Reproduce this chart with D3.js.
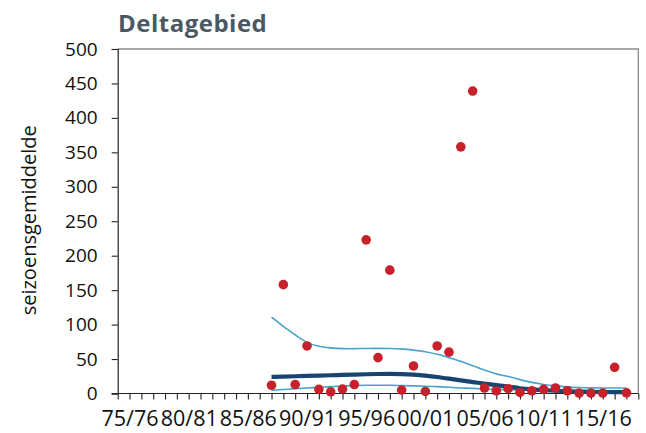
<!DOCTYPE html>
<html>
<head>
<meta charset="utf-8">
<script src="https://cdn.jsdelivr.net/npm/d3@7"></script>
<style>
  html, body { margin: 0; padding: 0; background: #fff; }
  svg { display: block; }
</style>
</head>
<body>
<svg id="chart" width="646" height="433"></svg>
<script>
// Seasons on the category axis (74/75 .. 18/19)
const firstYear = 1974;
const seasonCount = 45;
const seasons = Array.from({length: seasonCount}, (_, i) => {
  const a = (firstYear + i) % 100, b = (firstYear + i + 1) % 100;
  return String(a).padStart(2, "0") + "/" + String(b).padStart(2, "0");
});

// Labelled seasons on the x axis
const xTickLabels = ["75/76", "80/81", "85/86", "90/91", "95/96", "00/01", "05/06", "10/11", "15/16"];
const yTicks = [0, 50, 100, 150, 200, 250, 300, 350, 400, 450, 500];

// Observed seasonal means, 87/88 .. 17/18
const obsSeasons = seasons.slice(13, 44);
const observed = [12, 158, 13, 69, 6, 2.5, 6.5, 13, 223, 52, 179, 5, 40, 3, 69, 60,
  358, 439, 8, 4, 7, 1.5, 4, 6, 8, 4, 0.5, 0.5, 0.5, 38, 1];

// Smoothed trend with upper and lower bounds
const trend = [24, 24.5, 25, 25.5, 26, 26.5, 27, 27.5, 28, 28.3, 28.5, 28.3, 27.5, 26, 24, 21.5,
  19, 16.5, 14.5, 12, 10, 7.5, 6, 4.8, 4, 3.2, 2.7, 2.4, 2.2, 2, 2];
const upper = [111, 97, 85, 73, 68, 66, 65, 65, 65.5, 65.5, 65.5, 65, 63, 61, 57, 52,
  47, 40, 34, 28, 25, 20, 16, 13, 11, 9.5, 8.5, 8.2, 8, 8, 8];
const lower = [4.5, 6, 7, 8, 9, 10, 11, 11.5, 12, 12, 12, 11.5, 11, 10.5, 10, 9,
  8, 7.5, 6.5, 6, 5.5, 5, 4.5, 4.5, 4, 4, 3.8, 3.6, 3.5, 3.4, 3.3];

const svg = d3.select("#chart");
const plot = {left: 117.7, right: 638.3, top: 49, bottom: 393.5};

const x = d3.scalePoint().domain(seasons).range([plot.left, plot.right]);
const y = d3.scaleLinear().domain([0, 500]).range([plot.bottom, plot.top]);

// Title
svg.append("text")
  .attr("x", 118).attr("y", 32)
  .attr("font-family", "Open Sans, sans-serif")
  .attr("font-weight", "bold")
  .attr("font-size", 24)
  .attr("letter-spacing", 0.5)
  .attr("fill", "#4b5864")
  .text("Deltagebied");

// Frame: top and right edges
svg.append("path")
  .attr("d", `M${plot.left},${plot.top}H${plot.right}V${plot.bottom}`)
  .attr("fill", "none")
  .attr("stroke", "#8c8c8c")
  .attr("stroke-width", 1.3);

// Y axis
const yAxis = d3.axisLeft(y).tickValues(yTicks).tickSize(6).tickPadding(14);
const gy = svg.append("g").attr("transform", `translate(${plot.left},0)`).call(yAxis);
gy.select(".domain").attr("stroke", "#222").attr("stroke-width", 1.2);
gy.selectAll(".tick line").attr("stroke", "#222").attr("stroke-width", 1.1);
gy.selectAll(".tick text")
  .attr("font-family", "Open Sans, sans-serif")
  .attr("font-size", 19)
  .attr("fill", "#111");

// X axis: a tick at every season, labels every fifth season
const xAxis = d3.axisBottom(x).tickSize(6).tickPadding(11)
  .tickFormat(d => xTickLabels.includes(d) ? d : "");
const gx = svg.append("g").attr("transform", `translate(0,${plot.bottom})`).call(xAxis);
gx.select(".domain").remove();
gx.append("line")
  .attr("x1", plot.left - 6).attr("x2", plot.right)
  .attr("stroke", "#222").attr("stroke-width", 1.2);
gx.selectAll(".tick line").attr("stroke", "#222").attr("stroke-width", 1.1);
gx.selectAll(".tick text")
  .attr("font-family", "Open Sans, sans-serif")
  .attr("font-size", 21.5)
  .attr("fill", "#111");

// Y axis title
svg.append("text")
  .attr("transform", `translate(36,${(plot.top + plot.bottom) / 2 - 1}) rotate(-90)`)
  .attr("text-anchor", "middle")
  .attr("font-family", "Open Sans, sans-serif")
  .attr("font-size", 20)
  .attr("fill", "#111")
  .text("seizoensgemiddelde");

// Trend lines
const line = d3.line()
  .x((d, i) => x(obsSeasons[i]))
  .y(d => y(d))
  .curve(d3.curveBasis);

svg.append("path").datum(upper)
  .attr("d", line).attr("fill", "none")
  .attr("stroke", "#4aa3c8").attr("stroke-width", 1.6);
svg.append("path").datum(lower)
  .attr("d", line).attr("fill", "none")
  .attr("stroke", "#4aa3c8").attr("stroke-width", 1.6);
svg.append("path").datum(trend)
  .attr("d", line).attr("fill", "none")
  .attr("stroke", "#1a4470").attr("stroke-width", 4.2);

// Observed points
svg.append("g").selectAll("circle")
  .data(observed)
  .join("circle")
  .attr("cx", (d, i) => x(obsSeasons[i]))
  .attr("cy", d => y(d))
  .attr("r", 4.8)
  .attr("fill", "#c9212b");
</script>
</body>
</html>
